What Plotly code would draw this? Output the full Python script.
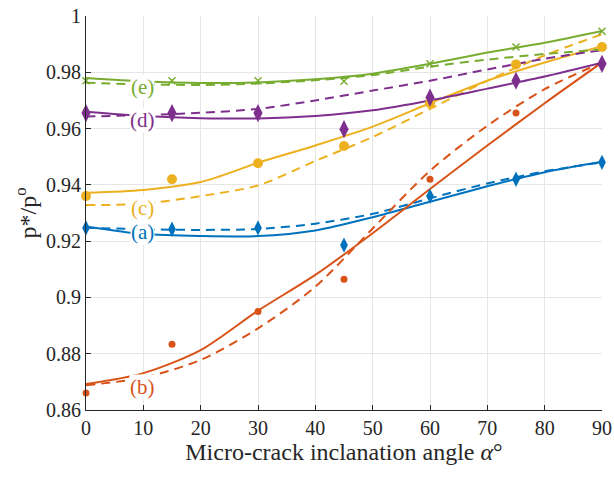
import plotly.graph_objects as go

# Marker data (angle in degrees)
angles = [0, 15, 30, 45, 60, 75, 90]
a_pts = [0.9247, 0.9242, 0.9247, 0.9186, 0.936, 0.942, 0.948]
b_pts = [0.866, 0.8834, 0.895, 0.9065, 0.942, 0.9655, 0.983]
c_pts = [0.936, 0.942, 0.9477, 0.9538, 0.969, 0.9828, 0.989]
d_pts = [0.9655, 0.9655, 0.9655, 0.9598, 0.971, 0.977, 0.983]
e_pts = [0.977, 0.977, 0.977, 0.9768, 0.983, 0.989, 0.9946]

# Fitted curves read at every 10 degrees
fit_x = [0, 10, 20, 30, 40, 50, 60, 70, 80, 90]
a_solid = [0.9252, 0.9225, 0.9218, 0.9218, 0.9238, 0.9285, 0.934, 0.9395, 0.9445, 0.9482]
a_dash = [0.9248, 0.9242, 0.924, 0.9243, 0.9262, 0.9297, 0.9352, 0.9405, 0.9448, 0.948]
b_solid = [0.8692, 0.8731, 0.8813, 0.8953, 0.908, 0.9228, 0.9385, 0.954, 0.969, 0.9835]
b_dash = [0.8688, 0.8715, 0.8778, 0.889, 0.9038, 0.9245, 0.945, 0.961, 0.974, 0.9835]
c_solid = [0.9372, 0.9382, 0.941, 0.9478, 0.954, 0.9607, 0.969, 0.977, 0.9835, 0.9893]
c_dash = [0.9328, 0.9333, 0.936, 0.9398, 0.9485, 0.957, 0.967, 0.977, 0.986, 0.9935]
d_solid = [0.966, 0.9645, 0.9637, 0.9636, 0.9645, 0.9665, 0.970, 0.9742, 0.9785, 0.9834]
d_dash = [0.9643, 0.9648, 0.9656, 0.967, 0.970, 0.9735, 0.977, 0.981, 0.9848, 0.9879]
e_solid = [0.978, 0.9768, 0.9762, 0.9764, 0.9775, 0.9795, 0.983, 0.987, 0.9905, 0.9947]
e_dash = [0.9763, 0.9757, 0.9755, 0.976, 0.9772, 0.979, 0.982, 0.9845, 0.9865, 0.9881]

labels = ["(a)", "(b)", "(c)", "(d)", "(e)"]
label_x = [9.8, 9.8, 9.8, 9.8, 9.8]
label_y = [0.9232, 0.8682, 0.9318, 0.963, 0.9747]

y_ticks = [0.86, 0.88, 0.9, 0.92, 0.94, 0.96, 0.98, 1.0]
y_tick_text = ["0.86", "0.88", "0.9", "0.92", "0.94", "0.96", "0.98", "1"]
x_ticks = [0, 10, 20, 30, 40, 50, 60, 70, 80, 90]

colors = ["#0072BD", "#D95319", "#EDB120", "#7E2F8E", "#77AC30"]

fig = go.Figure()

solids = [a_solid, b_solid, c_solid, d_solid, e_solid]
dashes = [a_dash, b_dash, c_dash, d_dash, e_dash]
for i in range(5):
    fig.add_trace(go.Scatter(x=fit_x, y=solids[i], mode="lines",
                             line=dict(color=colors[i], width=2, shape="spline", smoothing=0.8),
                             showlegend=False, hoverinfo="skip"))
    fig.add_trace(go.Scatter(x=fit_x, y=dashes[i], mode="lines",
                             line=dict(color=colors[i], width=2, shape="spline", smoothing=0.8, dash="9px,6px"),
                             showlegend=False, hoverinfo="skip"))

pts = [a_pts, b_pts, c_pts, d_pts, e_pts]
symbols = ["diamond-tall", "circle", "circle", "diamond-tall", "x-thin"]
sizes = [11, 7, 10, 13, 7]
for i in range(5):
    mk = dict(color=colors[i], size=sizes[i], symbol=symbols[i])
    if symbols[i] == "x-thin":
        mk["line"] = dict(color=colors[i], width=1.5)
    fig.add_trace(go.Scatter(x=angles, y=pts[i], mode="markers", marker=mk, cliponaxis=False, showlegend=False))

for i in range(5):
    fig.add_annotation(x=label_x[i], y=label_y[i], text=labels[i], showarrow=False,
                       font=dict(family="Liberation Serif", size=21, color=colors[i]),
                       bgcolor="white", borderpad=0)

fig.update_layout(
    width=614, height=477,
    margin=dict(l=86, r=12, t=16, b=67),
    plot_bgcolor="white", paper_bgcolor="white",
    font=dict(family="Liberation Serif", size=20, color="#262626"),
)
fig.update_xaxes(range=[0, 90], tickvals=x_ticks, showgrid=True, gridcolor="#e6e6e6", gridwidth=1,
                 showline=True, linecolor="#262626", linewidth=1, ticks="inside", ticklen=5, tickcolor="#262626",
                 zeroline=False, automargin=False,
                 title=dict(text="Micro-crack inclanation angle <i>α</i>°", font=dict(size=24), standoff=5))
fig.update_yaxes(range=[0.86, 1.0], tickvals=y_ticks, ticktext=y_tick_text, showgrid=True, gridcolor="#e6e6e6", gridwidth=1,
                 showline=True, linecolor="#262626", linewidth=1, ticks="inside", ticklen=5, tickcolor="#262626",
                 zeroline=False, automargin=False,
                 title=dict(text="p*/p<sup>o</sup>", font=dict(size=24), standoff=2))

fig.write_html("out.html")
